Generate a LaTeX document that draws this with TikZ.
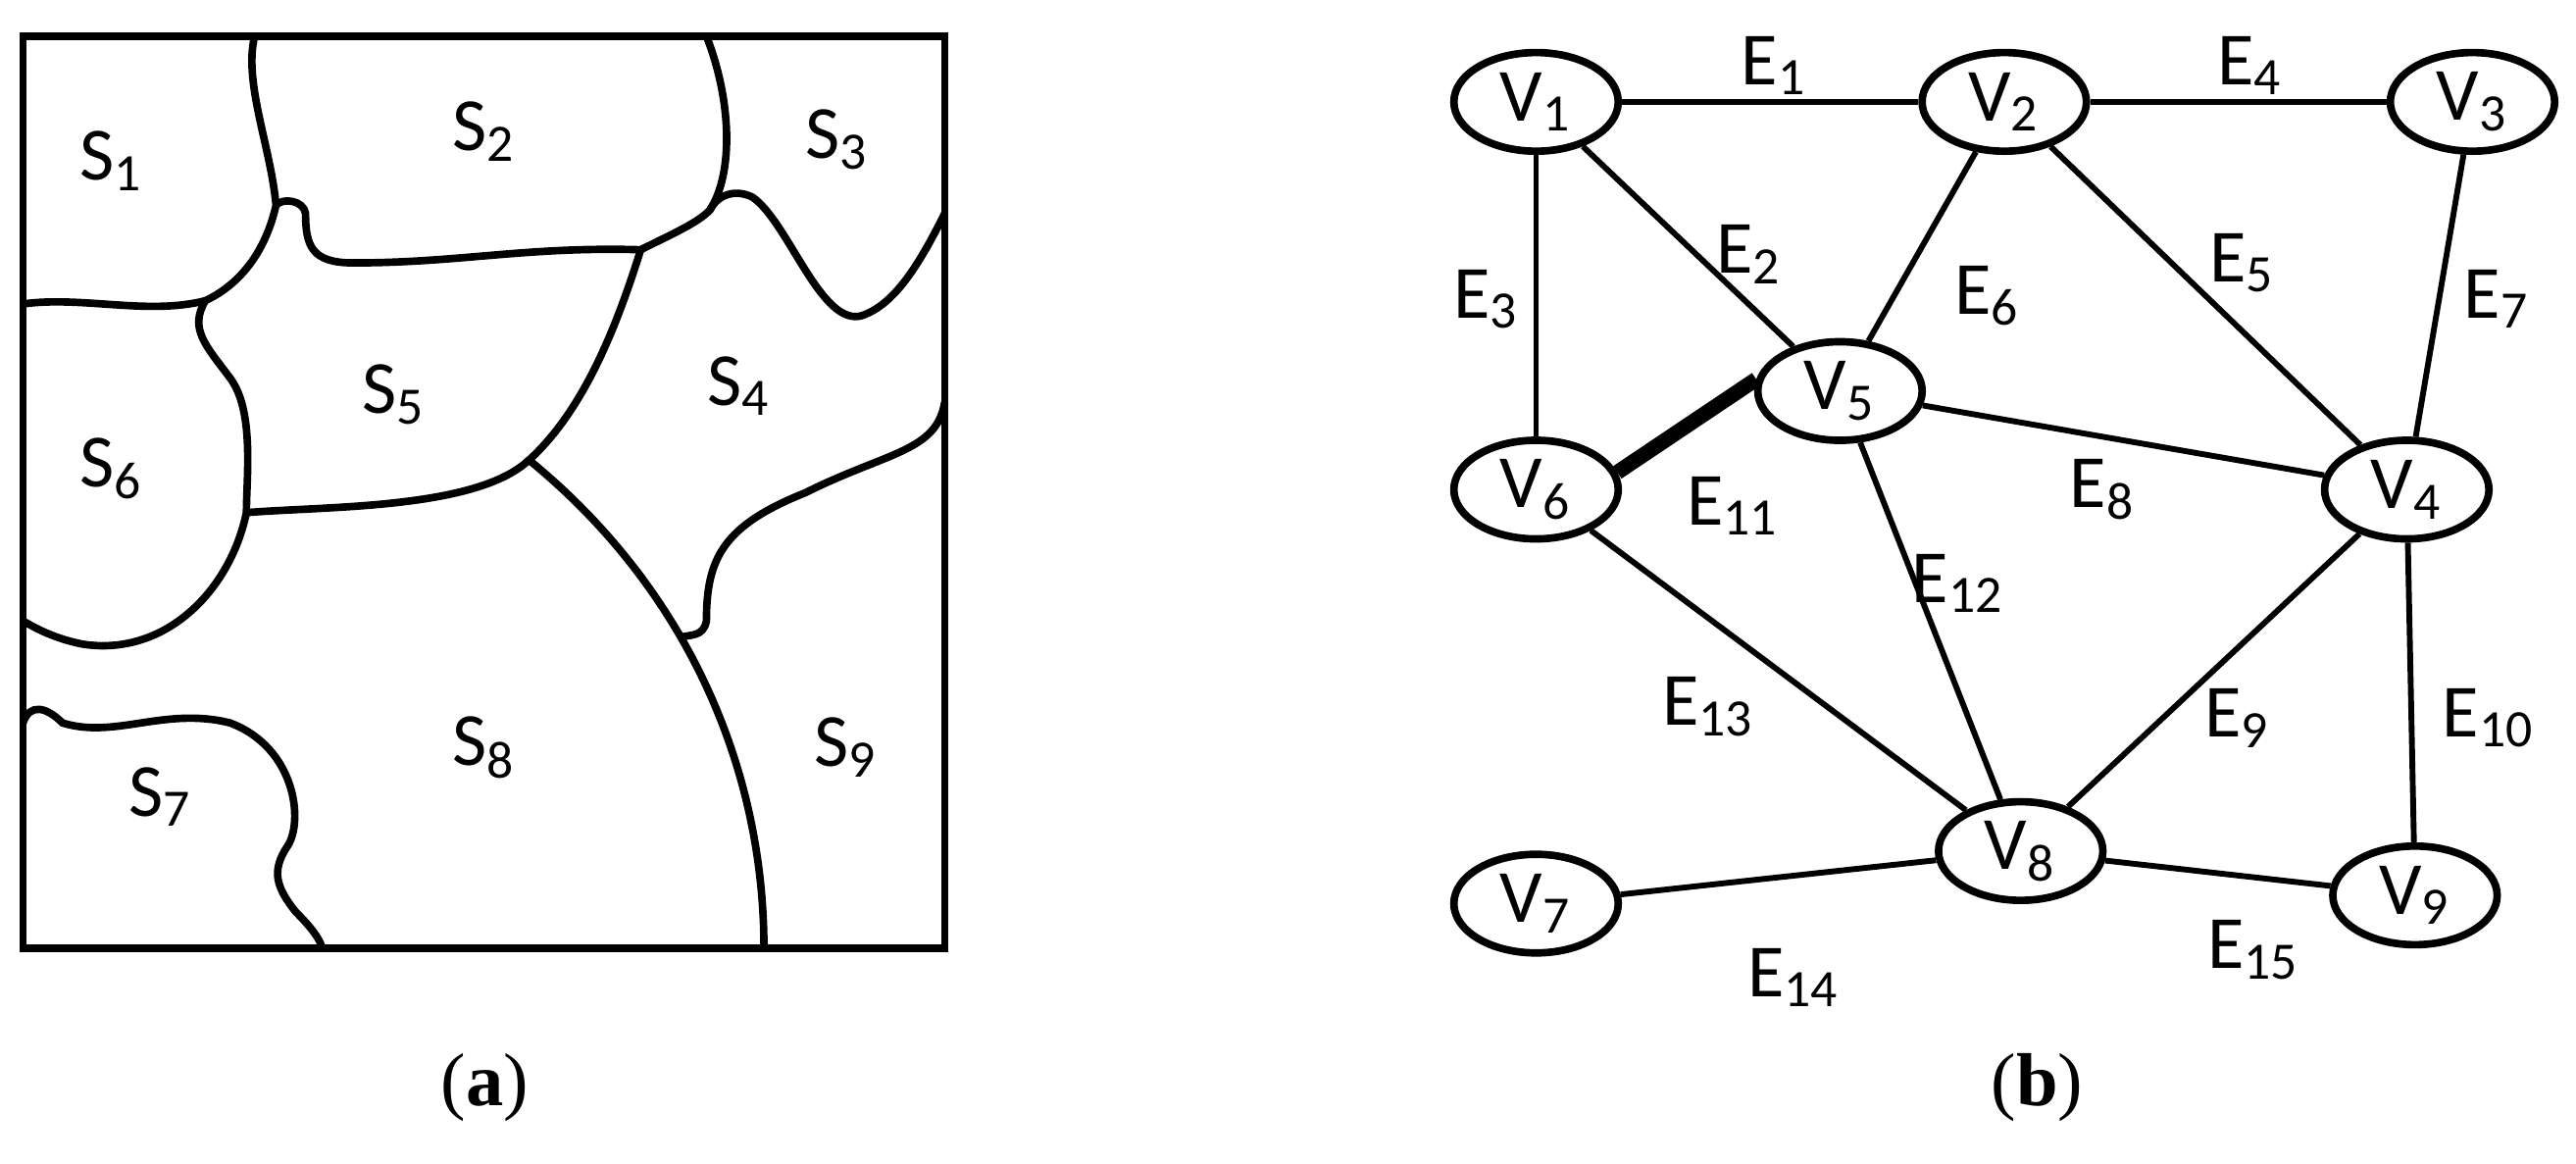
\documentclass[tikz,border=0pt]{standalone}
\usepackage{fontspec}
\setmainfont{Carlito}
\newfontfamily\capfont{Liberation Serif}
\usetikzlibrary{shapes.geometric}
\begin{document}
\begin{tikzpicture}[x=0.01cm,y=-0.01cm,line width=1.3pt,
  v/.style={draw,ellipse,minimum width=1cm,minimum height=0.6cm,inner sep=0pt,font=\fontsize{13}{15}\selectfont},
  lab/.style={font=\fontsize{13}{15}\selectfont},
  e/.style={line width=1pt}]
\useasboundingbox (0,0) rectangle (1568,708);
% panel (a)
\draw (14,22) rectangle (575,577);
\draw (155,22) .. controls (148,50) and (165,90) .. (168,125) .. controls (160,160) and (140,176) .. (125,183) .. controls (90,192) and (50,180) .. (14,185);
\draw (168,125) .. controls (172,120) and (185,122) .. (186,130) .. controls (186,150) and (190,160) .. (215,160) .. controls (280,160) and (320,150) .. (390,152) .. controls (410,142) and (424,136) .. (432,128) .. controls (447,105) and (445,60) .. (430,22);
\draw (432,128) .. controls (437,118) and (448,115) .. (458,120) .. controls (480,135) and (500,200) .. (525,192) .. controls (545,185) and (560,160) .. (575,130);
\draw (390,152) .. controls (375,200) and (355,250) .. (322,280) .. controls (420,360) and (465,470) .. (465,577);
\draw (150,312) .. controls (200,308) and (290,310) .. (322,280);
\draw (125,183) .. controls (115,200) and (125,210) .. (140,230) .. controls (155,250) and (150,290) .. (150,312) .. controls (140,360) and (100,400) .. (50,392) .. controls (30,388) and (18,380) .. (14,378);
\draw (575,245) .. controls (570,275) and (540,275) .. (490,300) .. controls (440,320) and (430,340) .. (430,378) .. controls (428,388) and (420,386) .. (414,388);
\draw (14,440) .. controls (18,428) and (28,430) .. (38,440) .. controls (70,450) and (100,430) .. (140,440) .. controls (180,455) and (185,500) .. (175,515) .. controls (165,530) and (168,540) .. (180,555) .. controls (190,565) and (195,572) .. (196,577);
\node[lab] (s1) at (68,98) {S\textsubscript{1}};
\node[lab] (s2) at (295,80) {S\textsubscript{2}};
\node[lab] (s3) at (510,85) {S\textsubscript{3}};
\node[lab] (s5) at (240,240) {S\textsubscript{5}};
\node[lab] (s4) at (450,235) {S\textsubscript{4}};
\node[lab] (s6) at (68,285) {S\textsubscript{6}};
\node[lab] (s8) at (295,455) {S\textsubscript{8}};
\node[lab] (s9) at (515,455) {S\textsubscript{9}};
\node[lab] (s7) at (98,485) {S\textsubscript{7}};
% panel (b)
\node[v] (v1) at (935,62) {V\textsubscript{1}};
\node[v] (v2) at (1220,62) {V\textsubscript{2}};
\node[v] (v3) at (1505,62) {V\textsubscript{3}};
\node[v] (v5) at (1120,238) {V\textsubscript{5}};
\node[v] (v6) at (935,298) {V\textsubscript{6}};
\node[v] (v4) at (1465,298) {V\textsubscript{4}};
\node[v] (v7) at (935,550) {V\textsubscript{7}};
\node[v] (v8) at (1230,518) {V\textsubscript{8}};
\node[v] (v9) at (1470,545) {V\textsubscript{9}};
\draw[e] (v1)--(v2); \draw[e] (v2)--(v3); \draw[e] (v1)--(v6);
\draw[e] (v1)--(v5); \draw[e] (v2)--(v5); \draw[e] (v2)--(v4);
\draw[e] (v3)--(v4); \draw[e] (v5)--(v4); \draw[line width=2.6pt] (v6.12)--(v5.172);
\draw[e] (v5)--(v8); \draw[e] (v6)--(v8); \draw[e] (v4)--(v8);
\draw[e] (v4)--(v9); \draw[e] (v7)--(v8); \draw[e] (v8)--(v9);
\node[lab] (e1) at (1080,40) {E\textsubscript{1}};
\node[lab] (e4) at (1370,40) {E\textsubscript{4}};
\node[lab] (e3) at (905,182) {E\textsubscript{3}};
\node[lab] (e2) at (1065,155) {E\textsubscript{2}};
\node[lab] (e6) at (1210,180) {E\textsubscript{6}};
\node[lab] (e5) at (1365,160) {E\textsubscript{5}};
\node[lab] (e7) at (1520,182) {E\textsubscript{7}};
\node[lab] (e8) at (1280,298) {E\textsubscript{8}};
\node[lab] (e11) at (1055,308) {E\textsubscript{11}};
\node[lab] (e12) at (1192,355) {E\textsubscript{12}};
\node[lab] (e13) at (1040,430) {E\textsubscript{13}};
\node[lab] (e9) at (1362,437) {E\textsubscript{9}};
\node[lab] (e10) at (1515,437) {E\textsubscript{10}};
\node[lab] (e14) at (1092,595) {E\textsubscript{14}};
\node[lab] (e15) at (1372,578) {E\textsubscript{15}};
\node[font=\capfont\fontsize{13}{15}\selectfont] (ca) at (295,662) {(\textbf{a})};
\node[font=\capfont\fontsize{13}{15}\selectfont] (cb) at (1240,662) {(\textbf{b})};
\end{tikzpicture}
\end{document}
